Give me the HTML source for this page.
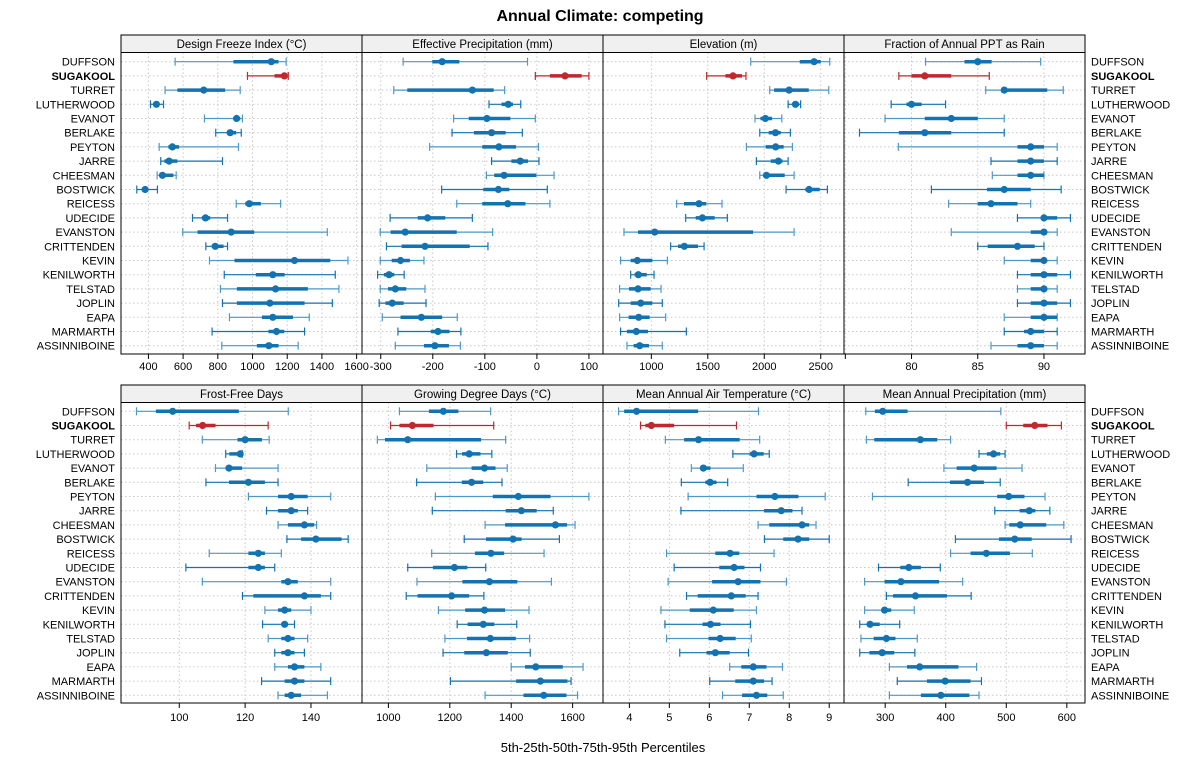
<!DOCTYPE html>
<html><head><meta charset="utf-8">
<style>
body{margin:0;background:#fff;}
svg{display:block;font-family:"Liberation Sans",sans-serif;}
</style></head>
<body>
<svg id="chart" width="1200" height="775" viewBox="0 0 1200 775" xmlns="http://www.w3.org/2000/svg">
<text x="600" y="21" text-anchor="middle" font-size="16" font-weight="bold">Annual Climate: competing</text>
<text x="603" y="752" text-anchor="middle" font-size="13">5th-25th-50th-75th-95th Percentiles</text>
</svg>
<script>
const sites = ["DUFFSON","SUGAKOOL","TURRET","LUTHERWOOD","EVANOT","BERLAKE","PEYTON","JARRE","CHEESMAN","BOSTWICK","REICESS","UDECIDE","EVANSTON","CRITTENDEN","KEVIN","KENILWORTH","TELSTAD","JOPLIN","EAPA","MARMARTH","ASSINNIBOINE"];
const highlightSite = "SUGAKOOL";
const panelTitles = ["Design Freeze Index (°C)","Effective Precipitation (mm)","Elevation (m)","Fraction of Annual PPT as Rain","Frost-Free Days","Growing Degree Days (°C)","Mean Annual Air Temperature (°C)","Mean Annual Precipitation (mm)"];
const ticksDFI = [400,600,800,1000,1200,1400,1600];
const ticksEP = [-300,-200,-100,0,100];
const ticksElev = [1000,1500,2000,2500];
const ticksFrac = [75,80,85,90];
const tickLabelsFrac = ["","80","85","90"];
const ticksFFD = [100,120,140];
const ticksGDD = [1000,1200,1400,1600];
const ticksMAAT = [4,5,6,7,8,9];
const ticksMAP = [300,400,500,600];
const dfi = [[554,890,1108,1150,1194],[971,1127,1183,1198,1206],[496,567,719,842,929],[412,435,446,463,487],[723,890,908,929,942],[788,862,871,906,935],[462,515,538,577,919],[471,492,519,567,827],[450,463,481,544,560],[333,362,381,400,452],[906,958,981,1048,1162],[654,708,729,756,856],[598,683,877,1010,1431],[731,765,785,833,856],[752,896,1242,1448,1550],[837,1019,1117,1185,1477],[815,910,1133,1319,1498],[827,910,1100,1300,1460],[867,1054,1117,1233,1327],[767,1092,1138,1183,1300],[823,1025,1094,1150,1263]];
const effPpt = [[-257,-201,-182,-149,-18],[-3,25,54,86,100],[-275,-249,-124,-83,-62],[-92,-68,-55,-46,-31],[-160,-131,-96,-51,-3],[-163,-121,-87,-60,-28],[-206,-105,-73,-40,3],[-87,-49,-32,-17,4],[-97,-82,-63,-1,33],[-183,-103,-74,-53,20],[-154,-105,-56,-22,25],[-282,-229,-210,-176,-124],[-301,-281,-253,-154,-85],[-289,-260,-215,-129,-94],[-301,-279,-262,-244,-217],[-306,-294,-284,-274,-255],[-301,-286,-272,-251,-215],[-303,-291,-278,-256,-213],[-297,-262,-222,-182,-153],[-267,-204,-190,-168,-146],[-272,-217,-196,-169,-147]];
const elev = [[1880,2314,2441,2500,2580],[1490,1656,1723,1803,1838],[2048,2087,2220,2394,2571],[2211,2252,2276,2308,2322],[1918,1966,2010,2069,2155],[1960,2039,2099,2146,2231],[1842,2013,2101,2172,2249],[1930,2057,2125,2161,2211],[1960,1995,2019,2181,2264],[2193,2364,2397,2491,2559],[1224,1289,1422,1487,1626],[1304,1393,1452,1561,1673],[758,882,1030,1901,2264],[1171,1236,1292,1413,1467],[728,817,876,1009,1142],[817,852,885,959,1024],[719,802,882,994,1086],[711,817,906,1009,1097],[719,799,888,985,1127],[728,784,867,970,1310],[784,843,897,979,1097]];
const fracRain = [[81.06,84,85,86.05,89.75],[79.04,80,81,83,85.87],[85.6,86.9,87,90.25,91.46],[78.46,79.62,80,80.76,82.57],[78,81,83,85,87],[76.07,79.04,81,83,87],[79,88,89,90,91],[86,88,89,90,91],[86.1,88,89,90,90],[81.5,85.7,87,89,91.3],[82.8,85,86,88,89],[88,90,90,91,92],[83,89,90,90,91],[85,85.75,88,89.3,90],[87,89,90,90,91],[88,89,90,91,92],[88,89,90,90,91],[88,89,90,91,92],[87,89,90,91,91],[87,88.5,89,90,91],[86,88,89,90,91]];
const ffd = [[87,92.9,98,118.1,133.1],[103,105.1,107.1,111,127],[107,117.7,120,125.1,127.3],[114.1,115.2,118.5,118.9,119.1],[111,114.1,115.1,119.1,130],[108.1,115.1,121,126,130],[121,130,134,139,146],[126.5,130,134,136,139],[130,133,138,141,141.7],[132.7,137,141.5,149.3,151.3],[109.1,121,124,126,131],[102,121,124,126,129],[107,131,133,136,146],[119.2,122.5,138,143,146],[126,130,132,134,140],[125.3,131,132,133,135],[127,131,133,135,139],[129,131,133,135,138],[129,133,135,138,143],[125,132,135,138,146],[130,132,134,137,145]];
const gdd = [[1036,1132,1179,1228,1333],[1007,1036,1078,1147,1343],[964,989,1063,1302,1382],[1222,1240,1263,1300,1337],[1125,1271,1313,1349,1387],[1092,1239,1271,1309,1370],[1153,1340,1423,1528,1653],[1143,1382,1433,1483,1537],[1315,1380,1544,1582,1608],[1247,1318,1406,1434,1557],[1141,1282,1334,1377,1507],[1063,1145,1215,1257,1317],[1093,1241,1329,1420,1531],[1058,1095,1206,1263,1311],[1163,1250,1313,1380,1458],[1224,1258,1309,1345,1418],[1184,1256,1332,1415,1460],[1178,1247,1319,1389,1462],[1400,1445,1480,1568,1634],[1202,1416,1495,1583,1595],[1315,1440,1506,1580,1616]];
const maat = [[3.73,3.87,4.18,5.72,7.23],[4.28,4.4,4.55,5.12,6.68],[4.9,5.37,5.73,6.76,7.26],[6.59,7.01,7.12,7.36,7.5],[5.55,5.78,5.85,6.03,6.85],[5.3,5.9,6.02,6.18,6.46],[5.47,7.18,7.64,8.23,8.9],[5.29,7.37,7.8,8.08,8.32],[7.22,7.5,8.32,8.5,8.67],[7.38,7.85,8.22,8.5,9.0],[4.93,6.15,6.52,6.75,7.62],[5.12,6.25,6.62,6.88,7.28],[4.97,6.07,6.72,7.28,7.93],[5.43,5.71,6.55,6.91,7.22],[4.79,5.51,6.1,6.61,7.18],[4.89,5.83,6.03,6.28,7.03],[4.93,5.98,6.27,6.66,7.05],[5.26,5.93,6.15,6.51,6.98],[6.51,6.8,7.1,7.43,7.83],[6.01,6.65,7.1,7.37,7.57],[6.33,6.82,7.18,7.45,7.85]];
const mapp = [[268,283,296,337,491],[500,528,547,568,591],[269,282,358,386,408],[455,468,479,490,498],[397,418,447,484,526],[338,407,436,463,490],[279,485,504,530,564],[481,522,538,548,572],[498,505,523,566,595],[416,488,514,542,607],[408,441,467,506,543],[289,325,339,359,391],[266,299,326,389,428],[302,313,350,402,442],[266,294,299,310,348],[258,271,275,291,324],[260,281,302,317,353],[258,274,295,315,349],[307,336,357,421,451],[320,369,399,441,459],[307,359,392,439,455]];

const svg = document.getElementById('chart');
const NS = 'http://www.w3.org/2000/svg';
function mk(tag, attrs, parent){
  const e = document.createElementNS(NS, tag);
  for (const k in attrs) e.setAttribute(k, attrs[k]);
  (parent||svg).appendChild(e);
  return e;
}
const cols = [[121,362],[362,603],[603,844],[844,1085]];
const rowsGeom = [{strip:35, top:52.5, bottom:354, y0:61.7, lab:370},{strip:385, top:402.5, bottom:703, y0:411.3, lab:721}];
const rowStep = 14.2;
const panels = [
 {data:dfi, lo:242, hi:1631, ticks:ticksDFI, labels:null, c:0, r:0},
 {data:effPpt, lo:-336, hi:127, ticks:ticksEP, labels:null, c:1, r:0},
 {data:elev, lo:572, hi:2706, ticks:ticksElev, labels:null, c:2, r:0},
 {data:fracRain, lo:74.9, hi:93.1, ticks:ticksFrac, labels:tickLabelsFrac, c:3, r:0},
 {data:ffd, lo:82.3, hi:155.5, ticks:ticksFFD, labels:null, c:0, r:1},
 {data:gdd, lo:914, hi:1699, ticks:ticksGDD, labels:null, c:1, r:1},
 {data:maat, lo:3.34, hi:9.37, ticks:ticksMAAT, labels:null, c:2, r:1},
 {data:mapp, lo:232, hi:630, ticks:ticksMAP, labels:null, c:3, r:1}
];
const BLUE = '#1372b0', BLUE_L = '#4d98c8', RED = '#c1272d';

rowsGeom.forEach((g, gi) => {
  sites.forEach((s, i) => {
    const y = g.y0 + i*rowStep + 4;
    const bold = s === highlightSite ? 'bold' : 'normal';
    const l = mk('text', {x:115, y:y, 'text-anchor':'end', 'font-size':11, 'font-weight':bold});
    
    
    l.textContent = s;
    const r = mk('text', {x:1091, y:y, 'font-size':11, 'font-weight':bold});
    
    
    r.textContent = s;
  });
});

panels.forEach((p, pi) => {
  const [x0, x1] = cols[p.c];
  const g = rowsGeom[p.r];
  const sx = v => x0 + (v - p.lo) / (p.hi - p.lo) * (x1 - x0);
  const grp = mk('g', {});
  
  
  const st = mk('rect', {x:x0, y:g.strip, width:x1-x0, height:g.top-g.strip, fill:'#f0f0f0', stroke:'#000', 'stroke-width':1}, grp);
  
  
  const tt = mk('text', {x:(x0+x1)/2, y:g.strip+13, 'text-anchor':'middle', 'font-size':11.5}, grp);
  
  
  tt.textContent = panelTitles[pi];
  p.ticks.forEach(t => {
    const x = sx(t);
    if (x > x0+1 && x < x1-1) {
      const gl = mk('line', {x1:x, x2:x, y1:g.top, y2:g.bottom, stroke:'#c8c8c8', 'stroke-dasharray':'1.5,2.5', 'stroke-width':1}, grp);
      
      
    }
  });
  sites.forEach((s, i) => {
    const y = g.y0 + i*rowStep;
    const hl = mk('line', {x1:x0, x2:x1, y1:y, y2:y, stroke:'#c8c8c8', 'stroke-dasharray':'1.5,2.5', 'stroke-width':1}, grp);
    
    
  });
  p.data.forEach((d, i) => {
    const y = g.y0 + i*rowStep;
    const col = sites[i] === highlightSite ? RED : (i % 2 === 0 ? BLUE_L : BLUE);
    const colD = sites[i] === highlightSite ? RED : BLUE;
    const w = mk('line', {x1:sx(d[0]), x2:sx(d[4]), y1:y, y2:y, stroke:col, 'stroke-width':1.2}, grp);
    
    
    [d[0], d[4]].forEach(v => {
      const cap = mk('line', {x1:sx(v), x2:sx(v), y1:y-4, y2:y+4, stroke:col, 'stroke-width':1.2}, grp);
      
      
    });
    const box = mk('line', {x1:sx(d[1]), x2:sx(d[3]), y1:y, y2:y, stroke:colD, 'stroke-width':3.5}, grp);
    
    
    const dot = mk('circle', {cx:sx(d[2]), cy:y, r:3.6, fill:colD}, grp);
    
    
  });
  const fr = mk('rect', {x:x0, y:g.top, width:x1-x0, height:g.bottom-g.top, fill:'none', stroke:'#000', 'stroke-width':1}, grp);
  
  
  p.ticks.forEach((t, ti) => {
    const x = sx(t);
    const tk = mk('line', {x1:x, x2:x, y1:g.bottom, y2:g.bottom+5, stroke:'#000', 'stroke-width':1}, grp);
    
    
    const lab = p.labels ? p.labels[ti] : String(t);
    if (lab) {
      const tl = mk('text', {x:x, y:g.lab, 'text-anchor':'middle', 'font-size':11}, grp);
      
      
      tl.textContent = lab;
    }
  });
});
</script>
</body></html>
